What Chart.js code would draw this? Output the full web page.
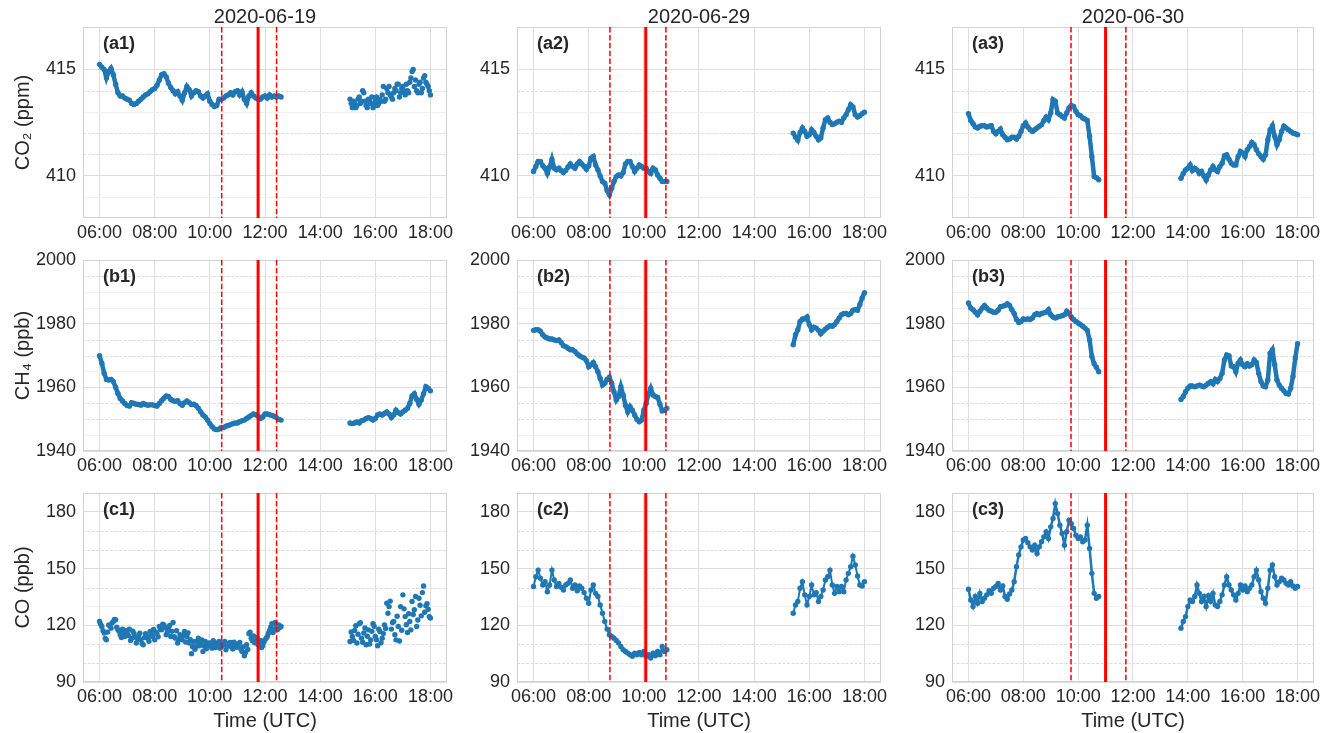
<!DOCTYPE html>
<html><head><meta charset="utf-8">
<script src="https://cdn.jsdelivr.net/npm/chart.js@4.4.1/dist/chart.umd.min.js"></script>
<style>
html,body{margin:0;padding:0;background:#fff;width:1327px;height:733px;overflow:hidden;}
canvas{position:absolute;}
</style></head><body>
<script>
// ---------------- DATA ----------------
const dates = ['2020-06-19', '2020-06-29', '2020-06-30'];
const panelLabels = [['(a1)', '(a2)', '(a3)'], ['(b1)', '(b2)', '(b3)'], ['(c1)', '(c2)', '(c3)']];
const yTitles = ['CO₂ (ppm)', 'CH₄ (ppb)', 'CO (ppb)'];
const xTitle = 'Time (UTC)';
const xTickValues = [6, 8, 10, 12, 14, 16, 18];
const xTickLabels = ['06:00', '08:00', '10:00', '12:00', '14:00', '16:00', '18:00'];
const xRange = [5.4, 18.6];
const yTickValues = [[410, 415], [1940, 1960, 1980, 2000], [90, 120, 150, 180]];
const yMinorDashed = [[411, 412, 414], [1950, 1955, 1970, 1975, 1995], [100, 110, 140, 160, 170]];
const yMinorFaint = [[409, 413], [1945, 1965, 1985, 1990], [130]];
const yRanges = [[408, 417], [1940, 2000], [90, 190]];
// event times (hours UTC): [dashed start, solid centre, dashed end]
const eventTimes = [[10.43, 11.75, 12.42], [8.77, 10.07, 10.8], [9.74, 11.0, 11.74]];
// sampling: one value every 5 minutes from the segment start
const sampleMinutes = 5;
const segStarts = [['06:00', '15:05'], ['06:00', '15:25'], ['06:00', '13:45']];

// CO2 (ppm)
const co2_0619_am = [
  415.24, 415.1, 415.0, 414.6, 414.9, 415.05, 414.75, 414.3, 413.9, 413.75, 413.75, 413.65,
  413.6, 413.55, 413.4, 413.35, 413.4, 413.5, 413.6, 413.7, 413.8, 413.85, 413.95, 414.05,
  414.1, 414.25, 414.5, 414.75, 414.8, 414.65, 414.35, 414.15, 414.0, 413.85, 413.95, 413.75,
  413.55, 413.9, 414.2, 414.05, 413.75, 413.9, 414.0, 413.95, 413.75, 413.65, 413.75, 413.85,
  413.5, 413.35, 413.25, 413.3, 413.6, 413.6, 413.65, 413.75, 413.8, 413.9, 413.8, 413.95,
  414.0, 413.8, 413.95, 413.6, 413.4, 413.75, 413.9, 413.75, 413.65, 413.6, 413.6, 413.7,
  413.75, 413.65, 413.8, 413.7, 413.75, 413.7, 413.75, 413.7];
const co2_0619_pm = [
  413.6, 413.2, 413.4, 413.3, 413.7, 413.5, 413.9, 413.3, 413.6, 413.4, 413.2,
  413.5, 413.3, 413.6, 413.8, 413.5, 414.1, 414.2, 413.7, 413.9, 414.0, 414.3, 413.9,
  414.2, 413.8, 414.0, 414.4, 414.9, 414.2, 414.0, 414.3, 413.9, 414.6, 414.4, 414.2,
  413.8];
const co2_0619_pm_mid = [   // readings between the 5-min samples (15:07:30 ...)
  413.4, 413.5, 413.2, 413.6, 413.4, 414.0, 413.5, 413.2, 413.5, 413.7, 413.3,
  413.7, 413.4, 413.5, 414.2, 413.6, 413.9, 413.8, 413.6, 414.1, 414.3, 413.7, 414.1,
  414.0, 414.3, 413.9, 414.6, 415.0, 414.5, 413.9, 414.4, 414.1, 414.7, 414.3, 414.0];
const co2_0629_am = [
  410.19, 410.43, 410.66, 410.66, 410.46, 410.35, 410.1, 410.4, 410.77, 410.35, 410.27, 410.35,
  410.24, 410.14, 410.24, 410.4, 410.55, 410.43, 410.35, 410.55, 410.66, 410.55, 410.43, 410.3,
  410.46, 410.82, 410.9, 410.5, 410.27, 409.98, 409.72, 409.64, 409.29, 409.09, 409.4, 409.72,
  409.95, 410.03, 409.98, 410.14, 410.55, 410.66, 410.66, 410.43, 410.19, 410.35, 410.5, 410.43,
  410.35, 410.35, 410.19, 410.1, 410.35, 410.27, 410.03, 409.87, 409.72, 409.72, 409.72];
const co2_0629_pm = [
  412.0, 411.81, 411.66, 412.03, 412.24, 412.08, 411.85,
  411.92, 412.16, 412.03, 411.85, 411.69, 411.77, 412.24, 412.63, 412.71, 412.51, 412.4, 412.44,
  412.51, 412.56, 412.51, 412.71, 412.87, 413.1, 413.34, 413.23, 412.87, 412.76, 412.82, 412.92,
  412.98];
const co2_0630_am = [
  412.92, 412.6, 412.44, 412.29, 412.24, 412.32, 412.35, 412.35, 412.29, 412.32, 412.35, 412.08,
  411.97, 412.08, 412.19, 411.92, 411.81, 411.69, 411.72, 411.81, 411.81, 411.72, 411.85, 412.08,
  412.35, 412.48, 412.29, 412.16, 412.08, 412.16, 412.24, 412.32, 412.4, 412.6, 412.76, 412.63,
  412.95, 413.58, 413.5, 412.95, 412.87, 412.79, 412.71, 412.95, 413.19, 413.3, 413.26, 413.03,
  412.87, 412.82, 412.71, 412.66, 412.6, 411.85, 410.9, 409.95, 409.9, 409.8];
const co2_0630_pm = [
  409.87, 410.1, 410.27,
  410.35, 410.5, 410.24, 410.35, 410.27, 410.1, 410.19, 409.98, 409.79, 410.03, 410.27, 410.43,
  410.27, 410.19, 410.43, 410.58, 410.93, 410.98, 410.77, 410.58, 410.5, 410.5, 410.9, 411.14,
  411.06, 410.9, 411.22, 411.37, 411.56, 411.45, 411.22, 411.03, 410.9, 410.77, 410.98, 411.69,
  412.16, 412.35, 411.85, 411.45, 411.69, 412.08, 412.32, 412.24, 412.16, 412.08, 412.0, 411.97,
  411.92];

// CH4 (ppb)
const ch4_0619_am = [
  1969.9, 1967.6, 1964.4, 1962.5, 1962.3, 1962.5, 1961.8, 1960.0, 1958.1, 1956.5, 1955.7, 1954.9,
  1954.3, 1954.1, 1955.2, 1954.9, 1954.7, 1954.6, 1954.4, 1954.9, 1954.6, 1954.4, 1954.5, 1954.5,
  1954.3, 1954.1, 1954.9, 1955.8, 1956.6, 1957.3, 1957.1, 1956.2, 1955.8, 1955.6, 1955.8, 1954.9,
  1954.4, 1955.2, 1955.7, 1955.2, 1954.6, 1954.7, 1954.3, 1953.4, 1952.3, 1951.3, 1950.7, 1949.7,
  1948.6, 1947.6, 1946.9, 1946.7, 1946.9, 1947.4, 1947.4, 1947.8, 1948.0, 1948.3, 1948.6, 1948.8,
  1948.8, 1949.2, 1949.5, 1949.7, 1950.2, 1950.7, 1951.2, 1951.6, 1951.4, 1950.9, 1950.2, 1950.7,
  1951.6, 1951.6, 1951.4, 1951.2, 1950.9, 1950.5, 1949.9, 1949.7];
const ch4_0619_pm = [
  1948.8, 1948.6, 1948.8, 1949.1, 1948.8, 1949.5, 1949.7, 1950.2, 1950.5, 1950.2, 1949.7,
  1950.2, 1951.3, 1951.6, 1951.3, 1951.8, 1952.3, 1951.6, 1950.5, 1951.3, 1952.8, 1952.0, 1951.6,
  1952.3, 1952.8, 1953.4, 1954.9, 1957.3, 1958.0, 1956.2, 1954.7, 1956.0, 1958.0, 1960.2, 1959.7,
  1958.9];
const ch4_0629_am = [
  1977.9, 1978.1, 1978.1, 1977.6, 1976.5, 1975.8, 1975.5, 1975.2, 1975.2, 1974.9, 1974.7, 1974.9,
  1974.1, 1973.1, 1972.8, 1972.3, 1971.8, 1971.8, 1971.3, 1970.5, 1969.9, 1969.5, 1969.2, 1968.4,
  1966.5, 1967.1, 1967.8, 1966.5, 1964.9, 1962.8, 1960.7, 1961.3, 1962.5, 1963.2, 1961.3, 1958.6,
  1956.0, 1957.1, 1960.2, 1957.6, 1954.4, 1952.3, 1953.9, 1952.8, 1951.3, 1949.9, 1949.2, 1949.7,
  1952.8, 1954.9, 1957.9, 1959.7, 1957.6, 1957.1, 1956.8, 1954.7, 1952.6, 1952.8, 1953.4];
const ch4_0629_pm = [
  1973.4, 1976.5, 1978.1, 1980.7, 1981.5, 1981.5, 1982.1,
  1979.7, 1978.1, 1978.9, 1978.6, 1977.9, 1976.8, 1977.6, 1978.3, 1978.9, 1979.4, 1979.2, 1979.7,
  1980.7, 1981.8, 1982.8, 1983.2, 1983.2, 1982.8, 1983.2, 1984.2, 1984.4, 1984.2, 1986.0, 1988.1,
  1989.7];
const ch4_0630_am = [
  1986.5, 1984.9, 1984.4, 1983.6, 1982.8, 1983.9, 1984.9, 1985.7, 1984.9, 1984.2, 1983.9, 1983.6,
  1983.6, 1984.2, 1985.3, 1985.5, 1985.7, 1986.3, 1985.7, 1984.4, 1983.2, 1981.3, 1980.4, 1980.7,
  1981.5, 1981.3, 1981.5, 1981.3, 1981.8, 1982.8, 1983.2, 1982.8, 1983.2, 1983.4, 1983.6, 1984.4,
  1982.8, 1982.1, 1981.8, 1982.1, 1982.3, 1982.5, 1982.8, 1983.9, 1983.2, 1982.1, 1981.3, 1980.7,
  1980.2, 1979.7, 1979.2, 1978.6, 1977.9, 1974.9, 1969.7, 1967.4, 1966.3, 1964.9];
const ch4_0630_pm = [
  1956.2, 1957.1, 1958.6,
  1959.7, 1960.4, 1960.4, 1960.2, 1960.4, 1960.7, 1960.4, 1960.2, 1960.7, 1961.3, 1961.8, 1961.1,
  1962.5, 1961.8, 1962.8, 1964.4, 1968.6, 1970.2, 1969.9, 1966.7, 1966.5, 1964.9, 1967.6, 1968.6,
  1967.1, 1966.5, 1967.4, 1966.7, 1967.1, 1968.6, 1967.8, 1964.4, 1961.8, 1960.4, 1960.2, 1962.3,
  1970.7, 1971.8, 1967.1, 1962.3, 1960.7, 1959.7, 1958.9, 1958.1, 1957.9, 1959.7, 1963.4, 1969.2,
  1973.7];

// CO (ppb)
const co_0619_am = [
  122.0, 119.4, 115.9, 112.3, 120.2, 118.5, 122.0, 122.9, 117.6, 115.0, 118.0, 114.1,
  116.2, 118.0, 113.2, 115.5, 110.6, 114.1, 112.3, 109.7, 115.5, 113.2, 116.7, 114.1,
  112.3, 115.5, 119.4, 117.6, 120.2, 115.0, 118.0, 114.1, 121.5, 113.2, 110.6, 115.0,
  112.3, 116.7, 114.1, 110.6, 105.0, 111.4, 108.8, 113.2, 110.6, 106.2, 111.4, 108.8,
  110.6, 107.9, 110.6, 109.2, 111.4, 108.8, 109.7, 107.1, 109.2, 110.9, 107.4, 110.2,
  108.8, 110.9, 106.2, 103.9, 109.7, 115.5, 113.2, 114.4, 111.4, 109.7, 112.0, 109.2,
  112.3, 114.1, 117.3, 120.8, 118.0, 119.4, 120.2, 119.4];
const co_0619_am_mid = [    // readings between the 5-min samples (06:02:30 ...)
  120.5, 117.2, 113.0, 116.4, 119.8, 121.3, 123.1, 119.0, 116.8, 113.5, 116.0, 117.2,
  114.6, 112.0, 116.9, 113.8, 112.7, 115.8, 110.4, 113.5, 114.2, 111.6, 115.1, 117.8,
  116.3, 113.9, 117.8, 120.6, 118.8, 116.4, 119.9, 116.8, 114.0, 117.1, 112.5, 113.6,
  114.8, 111.2, 116.0, 112.4, 108.7, 107.3, 111.5, 109.2, 112.3, 109.0, 107.6, 110.5,
  109.3, 111.8, 108.2, 110.6, 107.8, 110.2, 111.5, 108.9, 110.6, 108.5, 111.0, 108.4,
  110.0, 107.4, 108.6, 105.6, 107.2, 116.4, 111.8, 110.8, 113.5, 111.3, 108.2, 111.0,
  113.2, 115.8, 119.0, 116.2, 121.5, 117.8, 118.9];
const co_0619_pm = [
  111.4, 114.1, 117.3, 110.6, 120.8, 113.2, 115.9, 109.7, 117.6, 112.3, 120.8,
  114.1, 109.2, 116.7, 113.2, 120.2, 131.7, 129.9, 118.0, 122.0, 112.3, 119.4, 129.9,
  136.1, 124.6, 116.2, 122.0, 132.6, 128.2, 119.4, 134.3, 125.0, 140.8, 130.3, 128.5,
  123.8];
const co_0619_pm_mid = [    // readings between the 5-min samples (15:07:30 ...)
  116.5, 112.0, 119.8, 115.3, 121.4, 111.0, 118.6, 114.2, 110.1, 116.8, 119.5,
  112.4, 117.9, 110.8, 115.6, 118.3, 126.4, 132.8, 121.5, 115.0, 124.8, 111.7, 117.4,
  128.7, 120.3, 126.1, 117.6, 125.7, 135.2, 122.8, 130.6, 137.3, 126.9, 131.4, 124.6];
const co_0629_am = [
  140.5, 145.7, 149.2, 144.9, 141.3, 143.1, 137.8, 141.3, 149.2, 144.0, 140.5, 142.2,
  140.1, 138.7, 141.3, 142.2, 144.0, 139.6, 141.3, 138.3, 140.8, 139.6, 137.3, 134.3,
  131.7, 138.7, 141.3, 136.9, 135.2, 130.8, 126.4, 122.0, 118.0, 115.0, 114.1, 113.2,
  112.0, 110.6, 108.8, 107.1, 106.2, 105.3, 104.4, 103.6, 105.3, 104.4, 105.6, 104.4,
  106.2, 103.6, 104.4, 102.7, 105.3, 103.9, 106.2, 104.4, 108.8, 106.2, 107.1];
const co_0629_pm = [
  126.4, 130.8, 132.6, 139.6, 143.1, 136.1, 130.8,
  135.2, 141.3, 136.1, 137.3, 132.6, 135.2, 138.7, 144.0, 145.7, 149.2, 141.3, 136.9,
  140.5, 137.8, 140.5, 137.8, 144.0, 147.5, 151.0, 156.6, 151.9, 146.1, 141.3, 140.8,
  143.1];
const co_0630_am = [
  139.1, 133.4, 129.9, 135.2, 131.7, 136.9, 132.6, 134.3, 136.1, 138.3, 136.9, 139.6,
  140.5, 142.2, 138.7, 140.8, 135.2, 133.8, 136.6, 138.7, 143.1, 151.0, 157.2, 161.5,
  165.1, 165.9, 163.7, 161.5, 159.8, 162.4, 158.0, 161.5, 164.2, 166.8, 169.5, 165.9,
  172.1, 176.5, 184.4, 179.1, 173.0, 168.6, 162.4, 169.5, 175.6, 173.8, 171.2, 167.7,
  165.9, 166.8, 164.2, 165.1, 173.0, 160.7, 147.5, 136.9, 134.3, 135.2];
const co_0630_pm = [
  118.5, 122.0, 124.6,
  129.9, 133.4, 132.6, 135.2, 141.3, 136.9, 132.6, 135.2, 129.9, 135.6, 132.6, 136.9,
  130.8, 129.9, 132.6, 136.1, 141.3, 145.7, 141.3, 138.7, 136.1, 133.4, 136.9, 141.3,
  138.7, 140.8, 137.8, 139.6, 141.3, 145.7, 149.2, 144.0, 137.8, 134.3, 131.7, 139.6,
  149.2, 151.9, 145.7, 141.3, 143.1, 144.9, 144.0, 142.2, 141.3, 143.1, 140.8, 139.6,
  140.5];

const seriesGrid = [
  [[co2_0619_am, co2_0619_pm], [co2_0629_am, co2_0629_pm], [co2_0630_am, co2_0630_pm]],
  [[ch4_0619_am, ch4_0619_pm], [ch4_0629_am, ch4_0629_pm], [ch4_0630_am, ch4_0630_pm]],
  [[co_0619_am, co_0619_pm], [co_0629_am, co_0629_pm], [co_0630_am, co_0630_pm]]
];
// extra in-between readings for the noisy stretches: [row, col, values, first time]
const midSeries = [
  [0, 0, co2_0619_pm_mid, '15:07:30'],
  [2, 0, co_0619_am_mid, '06:02:30'],
  [2, 0, co_0619_pm_mid, '15:07:30']
];

// ---------------- LAYOUT / STYLE ----------------
const FONT = "'Liberation Sans', Arial, Helvetica, sans-serif";
const TXT = '#262626';
const BLUE = '#1f77b4';
const plotLeft = [83, 517, 952], plotW = [364, 364, 362];
const plotTop = [27, 260, 493], plotH = [191, 191, 189];
const axisW = [83, 66, 66];
const padRight = 22;
const padTopRow = [27, 20, 20];
const axisH = [30, 30, 51];
// thickness of the trace joining the 5-min readings (0 = dots only)
const traceWidth = [
  [[4.5, 0], [4.5, 4.5], [4.5, 4.5]],
  [[4.5, 4.5], [4.5, 4.5], [4.5, 4.5]],
  [[0, 0], [2, 2], [2.5, 2.5]]
];

function hm(s) { const p = s.split(':').map(Number); return p[0] + p[1] / 60 + (p[2] || 0) / 3600; }

function makeOverlay(r, c) {
  return {
    id: 'overlay' + r + c,
    beforeDatasetsDraw(chart) {
      const { ctx, chartArea: a, scales: { y } } = chart;
      ctx.save();
      ctx.lineWidth = 1;
      ctx.setLineDash([3, 1.5]);
      ctx.strokeStyle = '#dddddd';
      yMinorDashed[r].forEach(v => {
        const py = Math.round(y.getPixelForValue(v)) + 0.5;
        ctx.beginPath(); ctx.moveTo(a.left, py); ctx.lineTo(a.right, py); ctx.stroke();
      });
      ctx.setLineDash([]);
      ctx.strokeStyle = '#f0f0f0';
      yMinorFaint[r].forEach(v => {
        const py = Math.round(y.getPixelForValue(v)) + 0.5;
        ctx.beginPath(); ctx.moveTo(a.left, py); ctx.lineTo(a.right, py); ctx.stroke();
      });
      ctx.strokeStyle = '#d2d2d2';
      ctx.strokeRect(Math.round(a.left) + 0.5, Math.round(a.top) + 0.5, Math.round(a.width) - 1, Math.round(a.height) - 1);
      ctx.restore();
    },
    afterDatasetsDraw(chart) {
      const { ctx, chartArea: a, scales: { x } } = chart;
      const [d1, s, d2] = eventTimes[c];
      ctx.save();
      ctx.strokeStyle = '#ff0000';
      ctx.lineWidth = 1.5;
      ctx.setLineDash([5.5, 2.4]);
      [d1, d2].forEach(t => {
        const px = x.getPixelForValue(t);
        ctx.beginPath(); ctx.moveTo(px, a.top); ctx.lineTo(px, a.bottom); ctx.stroke();
      });
      ctx.setLineDash([]);
      ctx.lineWidth = 3;
      const ps = x.getPixelForValue(s);
      ctx.beginPath(); ctx.moveTo(ps, a.top); ctx.lineTo(ps, a.bottom); ctx.stroke();
      ctx.restore();
    },
    afterDraw(chart) {
      const { ctx, chartArea: a } = chart;
      ctx.save();
      ctx.fillStyle = TXT;
      ctx.textBaseline = 'alphabetic';
      ctx.textAlign = 'left';
      ctx.font = 'bold 18px ' + FONT;
      ctx.fillText(panelLabels[r][c], a.left + 20, a.top + 22);
      if (r === 0) {
        ctx.textAlign = 'center';
        ctx.font = '20px ' + FONT;
        ctx.fillText(dates[c], (a.left + a.right) / 2, a.top - 4);
      }
      ctx.restore();
    }
  };
}

function dotSet(points, lw) {
  return {
    data: points,
    pointRadius: 2.7, pointHoverRadius: 2.7, pointBorderWidth: 0,
    backgroundColor: BLUE, borderColor: BLUE,
    showLine: lw > 0, borderWidth: lw, tension: 0
  };
}

for (let r = 0; r < 3; r++) {
  for (let c = 0; c < 3; c++) {
    const cv = document.createElement('canvas');
    const w = axisW[c] + plotW[c] + padRight;
    const h = padTopRow[r] + plotH[r] + axisH[r];
    cv.width = w; cv.height = h;
    cv.style.left = (plotLeft[c] - axisW[c]) + 'px';
    cv.style.top = (plotTop[r] - padTopRow[r]) + 'px';
    cv.style.width = w + 'px'; cv.style.height = h + 'px';
    document.body.appendChild(cv);

    const datasets = seriesGrid[r][c].map((vals, k) => {
      const t0 = hm(segStarts[c][k]);
      return dotSet(vals.map((v, i) => ({ x: t0 + i * sampleMinutes / 60, y: v })), traceWidth[r][c][k]);
    });
    midSeries.filter(m => m[0] === r && m[1] === c).forEach(m => {
      const t0 = hm(m[3]);
      datasets.push(dotSet(m[2].map((v, i) => ({ x: t0 + i * sampleMinutes / 60, y: v })), 0));
    });

    new Chart(cv, {
      type: 'scatter',
      data: { datasets },
      options: {
        responsive: false, animation: false, devicePixelRatio: 1,
        events: [],
        layout: { padding: { top: padTopRow[r], right: padRight, left: 0, bottom: 0 } },
        plugins: { legend: { display: false }, tooltip: { enabled: false }, title: { display: false } },
        scales: {
          x: {
            type: 'linear', min: xRange[0], max: xRange[1],
            afterBuildTicks: s => { s.ticks = xTickValues.map(v => ({ value: v })); },
            afterFit: s => { s.height = axisH[r]; },
            ticks: {
              autoSkip: false, maxRotation: 0, minRotation: 0, padding: 4, color: TXT,
              font: { family: FONT, size: 18 },
              callback: v => xTickLabels[xTickValues.indexOf(v)]
            },
            grid: { color: '#dedede', lineWidth: 1, drawTicks: false },
            border: { display: false },
            title: r === 2 ? { display: true, text: xTitle, color: TXT, font: { family: FONT, size: 20 }, padding: { top: 2, bottom: 0 } } : { display: false }
          },
          y: {
            min: yRanges[r][0], max: yRanges[r][1],
            afterBuildTicks: s => { s.ticks = yTickValues[r].map(v => ({ value: v })); },
            afterFit: s => { s.width = axisW[c]; },
            ticks: { padding: 7, color: TXT, font: { family: FONT, size: 18 }, callback: v => String(v) },
            grid: { color: '#dedede', lineWidth: 1, drawTicks: false },
            border: { display: false },
            title: c === 0 ? { display: true, text: yTitles[r], color: TXT, font: { family: FONT, size: 20 }, padding: { top: 11, bottom: 0 } } : { display: false }
          }
        }
      },
      plugins: [makeOverlay(r, c)]
    });
  }
}
</script>
</body></html>
